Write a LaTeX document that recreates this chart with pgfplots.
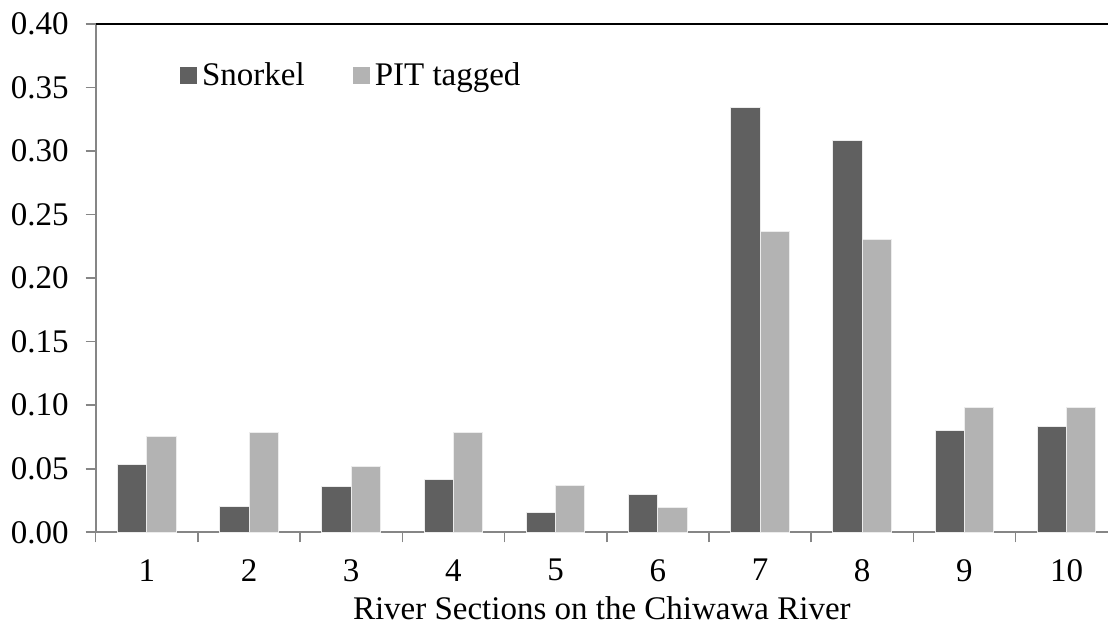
\documentclass[border=0pt]{standalone}
\usepackage{pgfplots}
\pgfplotsset{compat=1.18}
\usepackage{fontspec}
\setmainfont{Liberation Serif}

\definecolor{snork}{HTML}{606060}
\definecolor{pit}{HTML}{B3B3B3}
\definecolor{axgray}{HTML}{868686}

\begin{document}
\begin{tikzpicture}
\begin{axis}[
    scale only axis,
    width=506.15pt, height=254.15pt,
    ybar=0pt, bar width=0.287,
    xmin=0.5, xmax=10.405,
    ymin=0, ymax=0.40,
    axis x line*=bottom, axis y line*=left,
    axis line style={axgray, line width=0.9pt},
    tick align=outside,
    major tick length=5pt,
    minor tick length=5pt,
    tick style={axgray, line width=0.8pt},
    xtick={1,2,3,4,5,6,7,8,9,10},
    minor xtick={0.5,1.5,2.5,3.5,4.5,5.5,6.5,7.5,8.5,9.5},
    major x tick style={draw=none},
    minor x tick style={axgray, line width=0.8pt},
    ytick={0,0.05,0.10,0.15,0.20,0.25,0.30,0.35,0.40},
    /pgf/number format/assume math mode=true,
    yticklabel style={/pgf/number format/.cd, fixed, fixed zerofill, precision=2},
    ticklabel style={font=\fontsize{16.5}{19}\selectfont},
    xticklabel style={yshift=-5pt},
    yticklabel shift=5pt,
    xlabel={River Sections on the Chiwawa River},
    xlabel style={font=\fontsize{16.5}{19}\selectfont, anchor=base, at={(rel axis cs:0.5,0)}, yshift=-43.5pt},
    legend columns=2,
    legend style={at={(rel axis cs:0.083,0.898)}, anchor=west, draw=none, fill=none,
        font=\fontsize{16.5}{19}\selectfont, inner sep=0pt,
        nodes={inner sep=2.5pt},
        /tikz/every even column/.append style={column sep=21.5pt}},
    legend image code/.code={\fill[#1, draw=none] (0pt,-4.25pt) rectangle (8.5pt,4.25pt);},
    every axis plot/.append style={draw=white!85!gray, line width=0.5pt},
]
\addplot[fill=snork] coordinates {
    (1,0.0536) (2,0.0206) (3,0.0363) (4,0.0415) (5,0.0156)
    (6,0.0295) (7,0.3346) (8,0.3080) (9,0.0803) (10,0.0834)
};
\addplot[fill=pit] coordinates {
    (1,0.0750) (2,0.0784) (3,0.0515) (4,0.0784) (5,0.0368)
    (6,0.0195) (7,0.2365) (8,0.2307) (9,0.0980) (10,0.0982)
};
\legend{Snorkel, PIT tagged}
\draw[black, line width=1.2pt] (rel axis cs:0,1) -- (rel axis cs:1,1);
\end{axis}
\pgfresetboundingbox
\path[use as bounding box] (-47.85pt,-46.35pt) rectangle (506.15pt,266.15pt);
\end{tikzpicture}
\end{document}
